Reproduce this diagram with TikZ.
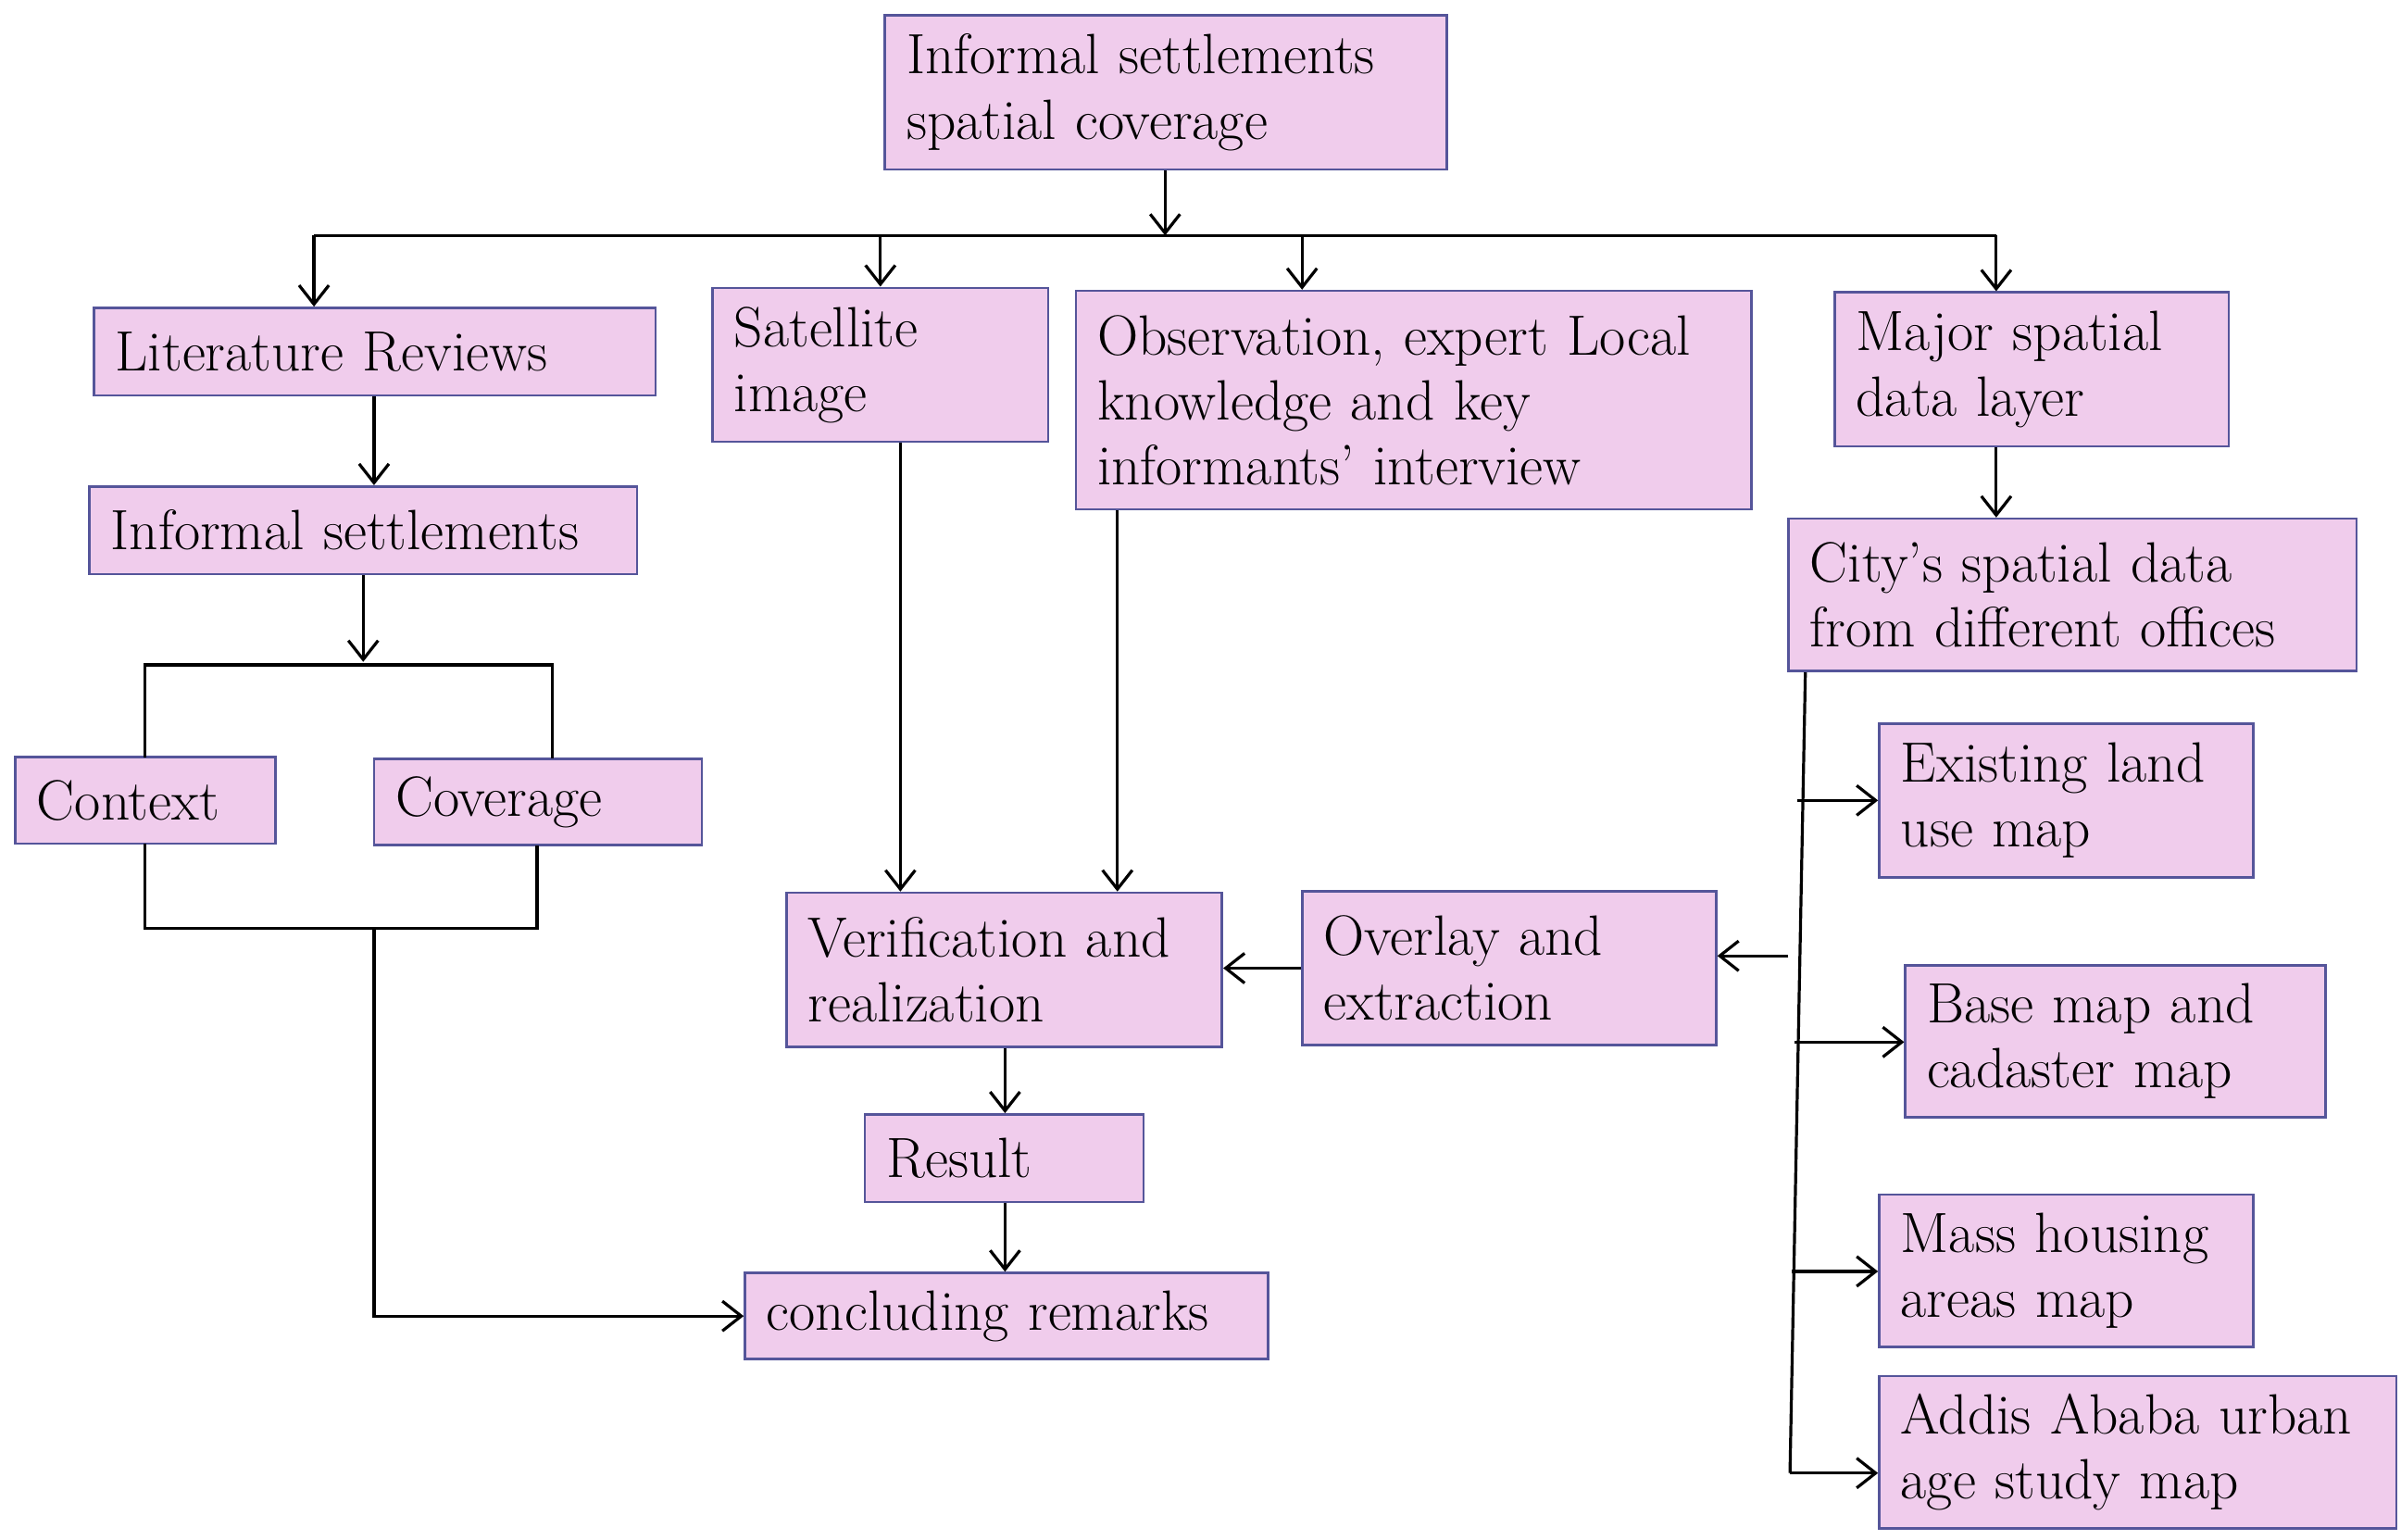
\documentclass[tikz,border=0pt]{standalone}
\usetikzlibrary{arrows.meta}
\begin{document}
\begin{tikzpicture}[x=0.02cm,y=-0.02cm,
 box/.style={draw=boxline,fill=boxfill,line width=0.9pt,inner sep=0pt,align=left,font=\fontsize{21}{24}\selectfont},
 ln/.style={line width=1.1pt,black},
 arr/.style={ln,-{Straight Barb[length=7pt,width=11pt]}}]
\definecolor{boxfill}{HTML}{F0CCEC}
\definecolor{boxline}{HTML}{55559A}
\useasboundingbox (0,0) rectangle (1560,1000);
\newcommand\bx[6]{%
 \pgfmathsetmacro\w{(#4-#2)*0.02}\pgfmathsetmacro\h{(#5-#3)*0.02}\pgfmathsetmacro\tw{\w-0.56}%
 \node[box,minimum width=\w cm,minimum height=\h cm,text width=\tw cm] (#1) at ({(#2+#4)/2},{(#3+#5)/2}) {#6};}
\bx{top}{575}{10}{940}{110}{Informal settlements\\spatial coverage}
\bx{lit}{61}{200}{426}{257}{Literature Reviews}
\bx{sat}{463}{187}{681}{287}{Satellite\\image}
\bx{obs}{699}{189}{1138}{331}{Observation, expert Local\\knowledge and key\\informants' interview}
\bx{major}{1192}{190}{1448}{290}{Major spatial\\data layer}
\bx{inf}{58}{316}{414}{373}{Informal settlements}
\bx{city}{1162}{337}{1531}{436}{City's spatial data\\from different offices}
\bx{context}{10}{492}{179}{548}{Context}
\bx{coverage}{243}{493}{456}{549}{Coverage}
\bx{exist}{1221}{470}{1464}{570}{Existing land\\use map}
\bx{verif}{511}{580}{794}{680}{Verification and\\realization}
\bx{overlay}{846}{579}{1115}{679}{Overlay and\\extraction}
\bx{base}{1238}{627}{1511}{726}{Base map and\\cadaster map}
\bx{result}{562}{724}{743}{781}{Result}
\bx{concl}{484}{827}{824}{883}{concluding remarks}
\bx{mass}{1221}{776}{1464}{875}{Mass housing\\areas map}
\bx{addis}{1221}{894}{1557}{993}{Addis Ababa urban\\age study map}
% top distribution
\coordinate (hb) at (757,153);
\draw[arr] (top.south -| 757,0) -- (hb);
\draw[ln] (204,153) -- (1297,153);
\draw[arr] (204,153) -- (lit.north -| 204,0);
\draw[arr] (572,153) -- (sat.north -| 572,0);
\draw[arr] (846,153) -- (obs.north -| 846,0);
\draw[arr] (1297,153) -- (major.north -| 1297,0);
% left branch
\draw[arr] (lit.south -| 243,0) -- (inf.north -| 243,0);
\draw[arr] (inf.south -| 236,0) -- (236,430);
\draw[ln] (94,492) -- (94,432) -- (359,432) -- (359,493);
\draw[ln] (94,548) -- (94,603) -- (349,603) -- (349,549);
\draw[arr] (243,603) -- (243,855) -- (concl.west);
% middle
\draw[arr] (sat.south -| 585,0) -- (verif.north -| 585,0);
\draw[arr] (obs.south -| 726,0) -- (verif.north -| 726,0);
\draw[arr] (verif.south -| 653,0) -- (result.north -| 653,0);
\draw[arr] (result.south -| 653,0) -- (concl.north -| 653,0);
\draw[arr] (overlay.west |- 0,629) -- (verif.east |- 0,629);
% right
\draw[arr] (major.south -| 1297,0) -- (city.north -| 1297,0);
\draw[ln] (city.south -| 1173,0) -- (1163,957);
\draw[arr] (1162,621) -- (overlay.east |- 0,621);
\draw[arr] (1168,520) -- (exist.west |- 0,520);
\draw[arr] (1166,677) -- (base.west |- 0,677);
\draw[arr] (1164,826) -- (mass.west |- 0,826);
\draw[arr] (1163,957) -- (addis.west |- 0,957);
\end{tikzpicture}
\end{document}
